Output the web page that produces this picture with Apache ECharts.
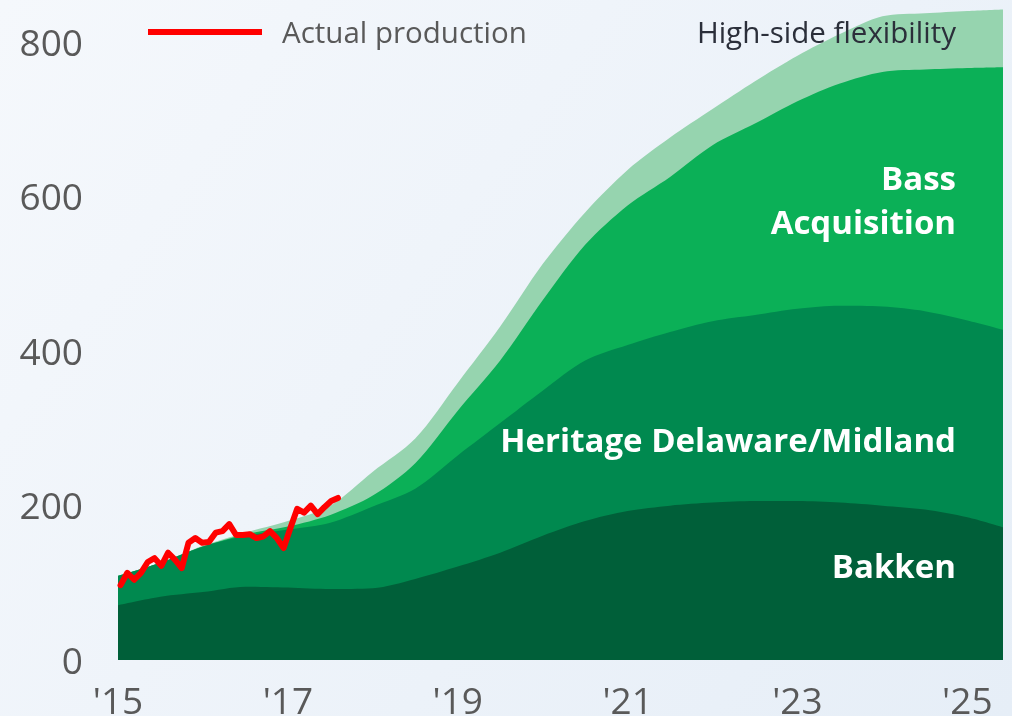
<!DOCTYPE html>
<html>
<head>
<meta charset="utf-8">
<script src="https://cdn.jsdelivr.net/npm/echarts@6/dist/echarts.min.js"></script>
<style>
  html, body { margin: 0; padding: 0; }
  #chart { width: 1012px; height: 716px; }
</style>
</head>
<body>
<div id="chart"></div>
<script>
// projection sample points (year)
const years = [2015, 2015.5, 2016, 2016.5, 2017, 2017.5, 2018, 2018.5, 2019, 2019.5, 2020,
  2020.5, 2021, 2021.5, 2022, 2022.5, 2023, 2023.5, 2024, 2024.5, 2025, 2025.42]

// layer thickness per sample point
const bakken = [71, 82, 88, 95, 94, 92, 93, 105, 121, 139, 161, 180, 193, 200, 204, 206, 206, 204, 200, 195, 185, 172]
const heritage = [38, 44, 59, 66, 75, 86, 106, 117, 144, 168, 188, 208, 215, 225, 235, 241, 249, 255, 258, 257, 255, 256]
const bass = [0, 0, 0, 2, 4, 10, 14, 33, 58, 81, 117, 150, 181, 201, 228, 248, 269, 288, 304, 313, 327, 340]
const flexibility = [0, 0, 1, 2, 7, 12, 31, 32, 36, 44, 47, 42, 46, 51, 47, 55, 59, 64, 72, 73, 74, 75]

// actual production, monthly from early 2015
const actualStart = 2015.03
const actualStep = 0.08
const actual = [97, 113, 104, 113, 127, 132, 122, 139, 130, 119, 152, 158, 152, 153, 165, 167, 176,
  162, 162, 163, 158, 160, 167, 158, 145, 171, 196, 191, 200, 189, 198, 206, 210]

const yTicks = [0, 200, 400, 600, 800]

// stack the layers by hand (value x-axis), bottom to top
const layers = [bakken, heritage, bass, flexibility]
const cumulative = []
layers.forEach((arr, k) => {
  cumulative.push(arr.map((v, i) => v + (k > 0 ? cumulative[k - 1][i] : 0)))
})

const pairs = (arr) => years.map((y, i) => [y, arr[i]])

const chart = echarts.init(document.getElementById('chart'))

const areaSeries = (name, data, color) => ({
  name: name,
  type: 'line',
  data: pairs(data),
  smooth: 0.3,
  showSymbol: false,
  lineStyle: { width: 0 },
  areaStyle: { color: color, opacity: 1 },
  itemStyle: { color: color },
  z: 2
})

const fontFamily = 'Open Sans'

// text label helper for the graphic layer
const label = (text, x, y, opts) => ({
  type: 'text', x: x, y: y, z: 100,
  style: Object.assign({
    text: text, textVerticalAlign: 'middle', fontFamily: fontFamily
  }, opts)
})

const option = {
  backgroundColor: {
    type: 'linear', x: 0, y: 0, x2: 1, y2: 1,
    colorStops: [
      { offset: 0, color: '#f5f8fc' },
      { offset: 1, color: '#e6eef7' }
    ]
  },
  animation: false,
  grid: { left: 118, right: 9, top: 4, bottom: 56, outerBoundsMode: 'none' },
  xAxis: {
    type: 'value',
    min: 2015,
    max: 2025.42,
    interval: 2,
    axisLine: { show: false },
    axisTick: { show: false },
    splitLine: { show: false },
    axisLabel: {
      showMaxLabel: false,
      margin: 25,
      fontFamily: fontFamily,
      fontSize: 37,
      color: '#595959',
      formatter: (v) => "'" + String(v).slice(2)
    }
  },
  yAxis: {
    type: 'value',
    min: 0,
    max: 850,
    interval: 200,
    axisLine: { show: false },
    axisTick: { show: false },
    splitLine: { show: false },
    axisLabel: {
      showMaxLabel: false,
      margin: 35,
      formatter: (v) => (yTicks.indexOf(v) >= 0 ? '{t|' + v + '}' : ''),
      rich: {
        t: {
          fontFamily: fontFamily,
          fontSize: 37,
          color: '#595959',
          padding: [6, 0, 0, 0]
        }
      }
    }
  },
  series: [
    // drawn top layer first so lower layers paint over it
    areaSeries('High-side flexibility', cumulative[3], '#96d4af'),
    areaSeries('Bass Acquisition', cumulative[2], '#0bb057'),
    areaSeries('Heritage Delaware/Midland', cumulative[1], '#00894f'),
    areaSeries('Bakken', cumulative[0], '#005f39'),
    {
      name: 'Actual production',
      type: 'line',
      data: actual.map((v, i) => [actualStart + i * actualStep, v]),
      showSymbol: false,
      lineStyle: { color: '#ff0000', width: 6, join: 'round', cap: 'round' },
      itemStyle: { color: '#ff0000' },
      z: 5
    }
  ],
  graphic: [
    {
      type: 'line', z: 100,
      shape: { x1: 148, y1: 32, x2: 262, y2: 32 },
      style: { stroke: '#ff0000', lineWidth: 6 }
    },
    label('Actual production', 282, 35, { fontSize: 29.5, fill: '#595959' }),
    label('High-side flexibility', 956, 35, { textAlign: 'right', fontSize: 29.5, fill: '#2b2f3a' }),
    label('Bass', 956, 181, { textAlign: 'right', fontSize: 33, fontWeight: 'bold', fill: '#ffffff' }),
    label('Acquisition', 956, 225, { textAlign: 'right', fontSize: 33, fontWeight: 'bold', fill: '#ffffff' }),
    label('Heritage Delaware/Midland', 956, 443, { textAlign: 'right', fontSize: 33, fontWeight: 'bold', fill: '#ffffff' }),
    label('Bakken', 956, 569, { textAlign: 'right', fontSize: 33, fontWeight: 'bold', fill: '#ffffff' })
  ]
}

chart.setOption(option)
</script>
</body>
</html>
